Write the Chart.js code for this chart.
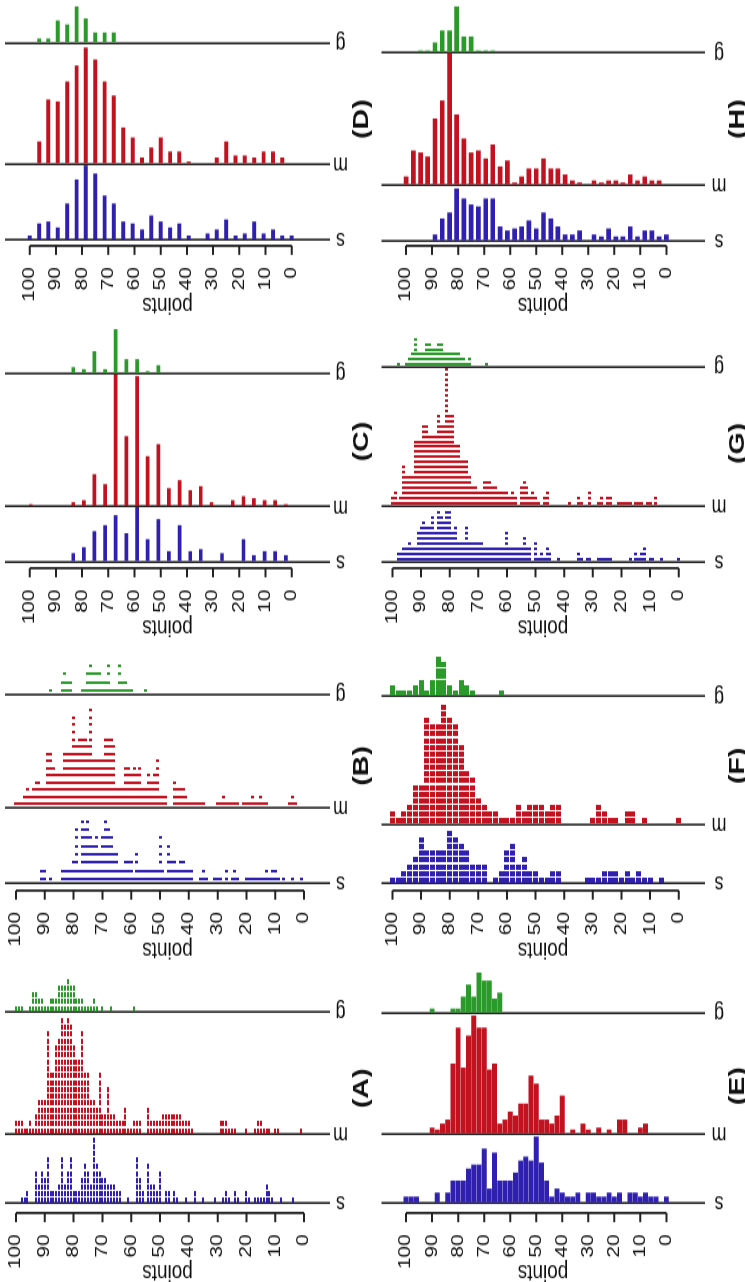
<!DOCTYPE html>
<html lang="en">
<head>
  <meta charset="UTF-8">
  <title>points by group</title>
  <script src="https://cdn.jsdelivr.net/npm/chart.js"></script>
  <style>
    html, body { margin: 0; padding: 0; background: #fff; overflow: hidden; }
    body { width: 745px; height: 1282px; position: relative; }
    /* the figure is laid out landscape, then turned a quarter left */
    #fig {
      position: absolute; left: 0; top: 0; width: 992px; height: 745px;
      transform-origin: 0 0;
      transform: translateY(1282px) rotate(-90deg) scaleX(1.3);
    }
    .panel { position: absolute; width: 248px; }
    .panel canvas { display: block; }
  </style>
</head>
<body>
<div id="fig"></div>

<script>
  const yTicks = [0, 10, 20, 30, 40, 50, 60, 70, 80, 90, 100];
  const groupNames = ["s", "m", "g"];
  const colors = ["#3020b0", "#c21220", "#2a9a2a"];

  // --- dot panels: [points, count] ---
  const aBlue = [[98,1],[97,1],[96,2],[93,5],[92,3],[91,5],[90,4],[89,7],[88,2],[87,2],[86,2],[85,3],[84,7],[83,3],[82,5],[81,7],[80,2],[79,2],[78,2],[77,4],[76,6],[75,5],[74,3],[73,10],[72,6],[71,5],[70,4],[69,4],[68,3],[67,3],[66,3],[65,2],[64,2],[61,1],[58,7],[57,4],[56,2],[54,6],[53,3],[52,3],[51,2],[50,5],[48,2],[47,2],[45,2],[44,1],[41,1],[38,2],[35,1],[31,1],[28,1],[27,2],[26,1],[24,2],[23,1],[20,2],[19,1],[17,1],[16,1],[15,1],[14,1],[13,3],[12,2],[11,1],[8,1],[4,1]];
  const aRed = [[100,2],[99,2],[98,2],[97,1],[96,1],[95,2],[94,1],[93,3],[92,5],[91,5],[90,5],[89,15],[88,9],[87,9],[86,13],[85,14],[84,17],[83,16],[82,17],[81,16],[80,13],[79,11],[78,11],[77,15],[76,9],[75,9],[74,5],[73,5],[72,4],[71,9],[70,3],[69,3],[68,7],[67,3],[66,3],[65,2],[64,2],[63,2],[62,4],[61,1],[60,1],[59,2],[58,2],[57,2],[54,4],[53,2],[52,2],[51,2],[50,2],[49,3],[48,3],[47,3],[46,3],[45,3],[44,3],[43,3],[42,2],[41,2],[40,2],[39,1],[29,2],[28,2],[27,2],[26,1],[25,1],[24,1],[20,1],[17,1],[16,2],[15,2],[14,1],[13,1],[12,1],[10,1],[9,1],[1,1]];
  const aGreen = [[100,1],[99,1],[98,1],[95,1],[94,3],[93,3],[92,2],[91,2],[90,1],[89,1],[88,2],[87,2],[86,2],[85,4],[84,4],[83,4],[82,5],[81,4],[80,4],[79,2],[78,2],[77,2],[76,1],[75,1],[74,1],[73,2],[72,1],[70,1],[67,1],[59,1]];

  const bBlue = [[91,2],[90,2],[88,1],[84,2],[83,2],[82,2],[81,2],[80,3],[79,7],[78,2],[77,8],[76,7],[75,8],[74,6],[73,5],[72,6],[71,4],[70,6],[69,8],[68,7],[67,6],[66,4],[65,4],[64,2],[63,2],[62,3],[61,3],[60,3],[59,1],[58,4],[57,2],[56,2],[55,2],[54,2],[53,2],[52,2],[51,2],[50,6],[49,2],[48,1],[47,5],[46,3],[45,3],[44,2],[43,3],[42,3],[41,2],[40,2],[39,2],[36,1],[35,2],[34,1],[31,1],[30,1],[29,1],[27,2],[25,1],[24,2],[23,1],[20,1],[19,1],[18,1],[17,1],[16,1],[15,1],[14,1],[13,2],[12,1],[11,2],[10,2],[9,1],[7,1],[4,1],[1,1]];
  const bRed = [[100,1],[99,1],[98,1],[97,2],[96,3],[95,2],[94,3],[93,4],[92,4],[91,3],[90,3],[89,8],[88,8],[87,6],[86,5],[85,5],[84,5],[83,8],[82,8],[81,8],[80,13],[79,9],[78,10],[77,10],[76,10],[75,9],[74,14],[73,7],[72,7],[71,7],[70,7],[69,10],[68,10],[67,10],[66,9],[65,3],[64,3],[63,3],[62,6],[61,6],[60,5],[59,6],[58,5],[57,6],[56,3],[55,3],[54,5],[53,4],[52,5],[51,7],[50,2],[49,2],[48,2],[45,4],[44,3],[43,3],[42,3],[41,2],[40,1],[39,1],[38,1],[37,1],[36,1],[35,1],[30,1],[29,1],[28,2],[27,1],[26,1],[25,1],[24,1],[23,1],[21,1],[20,1],[19,1],[18,2],[17,1],[16,1],[15,2],[14,1],[13,1],[5,1],[4,2],[3,1]];
  const bGreen = [[88,1],[84,2],[83,3],[82,2],[81,2],[77,1],[76,1],[75,3],[74,4],[73,3],[72,3],[71,3],[70,2],[69,2],[68,4],[67,1],[66,1],[65,1],[64,4],[63,2],[62,2],[61,1],[60,1],[55,1]];

  const fBlue = [[100,1],[98,1],[96,2],[94,3],[92,4],[90,7],[88,5],[86,5],[84,5],[82,5],[80,8],[78,7],[76,6],[74,5],[72,3],[70,3],[68,3],[64,1],[62,2],[60,5],[58,6],[56,3],[54,4],[52,2],[50,2],[48,1],[46,1],[44,2],[42,2],[32,1],[30,1],[28,1],[26,2],[24,2],[22,2],[20,1],[18,2],[16,1],[14,2],[12,1],[10,1],[6,1]];
  const fRed = [[100,2],[98,1],[96,2],[94,3],[92,6],[90,6],[88,16],[86,15],[84,15],[82,18],[80,16],[78,15],[76,12],[74,8],[72,7],[70,4],[68,3],[66,2],[64,2],[62,1],[60,1],[58,1],[56,3],[54,2],[52,3],[50,3],[48,3],[46,2],[44,3],[42,3],[30,1],[28,3],[26,2],[24,1],[22,1],[18,2],[16,2],[12,1],[0,1]];
  const fGreen = [[100,2],[98,1],[96,1],[94,1],[92,2],[90,3],[88,1],[86,3],[84,7],[82,6],[80,2],[78,1],[76,3],[74,2],[72,1],[62,1]];

  const gBlue = [[98,2],[97,2],[96,3],[95,3],[94,4],[93,3],[92,3],[91,6],[90,7],[89,8],[88,7],[87,7],[86,9],[85,6],[84,10],[83,9],[82,8],[81,10],[80,10],[79,6],[78,7],[77,4],[76,4],[75,4],[74,7],[73,4],[72,4],[71,4],[70,4],[69,4],[68,3],[67,3],[66,3],[65,3],[64,3],[63,3],[62,3],[61,3],[60,6],[59,3],[58,3],[57,3],[56,3],[55,3],[54,5],[53,3],[52,3],[50,4],[49,1],[48,2],[47,1],[46,3],[45,2],[42,1],[35,2],[34,1],[32,1],[31,1],[28,1],[27,1],[26,1],[25,1],[24,1],[17,1],[15,2],[14,1],[13,2],[12,3],[10,1],[9,1],[6,1],[0,1]];
  const gRed = [[100,2],[99,3],[98,1],[97,2],[96,8],[95,6],[94,6],[93,6],[92,13],[91,13],[90,13],[89,16],[88,16],[87,14],[86,14],[85,14],[84,18],[83,16],[82,16],[81,27],[80,18],[79,18],[78,12],[77,12],[76,9],[75,9],[74,9],[73,6],[72,4],[71,4],[70,3],[69,3],[68,5],[67,5],[66,5],[65,4],[64,4],[63,3],[62,3],[61,3],[60,3],[59,2],[58,3],[57,2],[55,4],[54,5],[53,4],[52,2],[51,3],[50,2],[49,1],[47,2],[46,3],[38,1],[35,2],[34,1],[31,3],[28,1],[27,2],[25,2],[24,2],[21,1],[20,1],[19,1],[18,1],[17,1],[15,1],[14,1],[13,1],[11,1],[10,1],[8,2]];
  const gGreen = [[98,1],[95,1],[94,2],[93,3],[92,6],[91,3],[90,3],[89,3],[88,5],[87,5],[86,4],[85,4],[84,5],[83,5],[82,3],[81,3],[80,3],[79,3],[78,3],[77,3],[76,2],[75,2],[74,1],[73,2],[67,1]];

  // --- bar panels ---
  const cPos = [99.6, 95.5, 91.5, 87.4, 83.4, 79.3, 75.3, 71.2, 67.2, 63.1, 59.0, 55.0, 50.9, 46.9, 42.8, 38.7, 34.7, 30.6, 26.6, 22.5, 18.4, 14.4, 10.3, 6.3, 2.2];
  const cBlue = [0, 0, 0, 0, 4, 7, 15, 18, 23, 14, 27, 11, 21, 5, 18, 5, 6, 0, 4, 0, 11, 3, 5, 5, 3];
  const cRed = [1, 0, 0, 0, 2, 3, 16, 11, 66, 35, 65, 25, 31, 9, 13, 8, 10, 2, 0, 3, 5, 4, 3, 3, 1];
  const cGreen = [0, 0, 0, 0, 3, 2, 11, 2, 22, 7, 7, 1, 4, 0, 0, 0, 0, 0, 0, 0, 0, 0, 0, 0, 0];

  const dPos = [100, 96.4, 92.9, 89.3, 85.7, 82.1, 78.6, 75, 71.4, 67.9, 64.3, 60.7, 57.1, 53.6, 50, 46.4, 42.9, 39.3, 35.7, 32.1, 28.6, 25, 21.4, 17.9, 14.3, 10.7, 7.1, 3.6, 0];
  const dBlue = [2, 8, 9, 6, 18, 30, 37, 33, 22, 18, 9, 8, 5, 12, 9, 6, 8, 2, 0, 3, 5, 10, 2, 3, 9, 3, 5, 2, 2];
  const dRed = [0, 11, 32, 31, 41, 49, 58, 52, 41, 34, 18, 13, 3, 8, 13, 6, 6, 1, 0, 0, 3, 11, 4, 4, 3, 6, 6, 3, 0];
  const dGreen = [0, 2, 2, 11, 9, 18, 12, 5, 5, 5, 0, 0, 0, 0, 0, 0, 0, 0, 0, 0, 0, 0, 0, 0, 0, 0, 0, 0, 0];

  const eBlue = [[100,3],[98,3],[96,3],[88,5],[84,5],[82,11],[80,11],[78,11],[76,17],[74,19],[72,19],[70,27],[68,7],[66,25],[64,11],[62,11],[60,11],[58,15],[56,21],[54,23],[52,21],[50,33],[48,20],[46,11],[44,3],[42,7],[40,5],[38,3],[36,3],[34,5],[30,5],[28,5],[26,3],[24,3],[22,5],[20,3],[18,5],[14,5],[12,5],[10,3],[8,5],[6,3],[4,3],[0,3]];
  const eRed = [[90,3],[88,2],[86,5],[84,7],[82,35],[80,53],[78,33],[76,49],[74,59],[72,53],[70,53],[68,32],[66,35],[64,5],[62,7],[60,11],[58,9],[56,15],[54,15],[52,29],[50,25],[48,7],[46,7],[44,5],[42,9],[40,19],[36,2],[32,5],[30,2],[26,3],[22,2],[18,7],[16,7],[10,3],[8,5]];
  const eGreen = [[90,2],[82,2],[80,2],[78,8],[76,14],[74,8],[72,20],[70,16],[68,16],[66,7],[64,10]];

  const hPos = [100, 97.2, 94.4, 91.7, 88.9, 86.1, 83.3, 80.6, 77.8, 75, 72.2, 69.4, 66.7, 63.9, 61.1, 58.3, 55.6, 52.8, 50, 47.2, 44.4, 41.7, 38.9, 36.1, 33.3, 30.6, 27.8, 25, 22.2, 19.4, 16.7, 13.9, 11.1, 8.3, 5.6, 2.8, 0];
  const hBlue = [0, 0, 0, 0, 3, 11, 14, 26, 21, 18, 17, 21, 21, 7, 5, 6, 7, 10, 6, 14, 11, 7, 3, 3, 5, 0, 3, 2, 6, 2, 2, 7, 2, 5, 5, 2, 3];
  const hRed = [4, 17, 16, 14, 33, 42, 66, 35, 23, 16, 17, 13, 20, 9, 12, 1, 4, 8, 8, 13, 8, 8, 5, 2, 1, 0, 2, 1, 2, 2, 1, 5, 2, 4, 2, 2, 0];
  const hGreen = [0, 0, 1, 1, 5, 11, 11, 23, 8, 8, 1, 1, 1, 0, 0, 0, 0, 0, 0, 0, 0, 0, 0, 0, 0, 0, 0, 0, 0, 0, 0, 0, 0, 0, 0, 0, 0];

  const zip = (pos, counts) => pos.map((p, i) => [p, counts[i]]).filter(d => d[1] > 0);

  // layout measured on the picture (px along the panel, before the stretch)
  const AXIS = 69, PANEL = 322.4, STRETCH = 1.3, TICK = 7;
  const rows = [
    { top: 0,   h: 372, areaTop: 5,   areaBottom: 330,   labelY: 340.5, letterY: 362 },
    { top: 372, h: 373, areaTop: 9.5, areaBottom: 332.5, labelY: 347,   letterY: 366 }
  ];
  const panels = [
    { id: "A", row: 0, idx: 0, kind: "dot", data: [aBlue, aRed, aGreen], bases: [79, 149, 273],       units: [6.7, 7, 7],     mark: [4, 2] },
    { id: "B", row: 0, idx: 1, kind: "dot", data: [bBlue, bRed, bGreen], bases: [76.3, 153.3, 268.3], units: [8.4, 7.3, 8.3], mark: [2, 3] },
    { id: "C", row: 0, idx: 2, kind: "bar", data: [zip(cPos, cBlue), zip(cPos, cRed), zip(cPos, cGreen)], bases: [75.6, 130.6, 263.6], units: [2, 2, 2], thick: 3 },
    { id: "D", row: 0, idx: 3, kind: "bar", data: [zip(dPos, dBlue), zip(dPos, dRed), zip(dPos, dGreen)], bases: [74.9, 150.9, 271.9], units: [2, 2, 2], thick: 3.3 },
    { id: "E", row: 1, idx: 0, kind: "bar", data: [eBlue, eRed, eGreen], bases: [79, 148, 269],       units: [2, 2, 2],       thick: 4.3 },
    { id: "F", row: 1, idx: 1, kind: "dot", data: [fBlue, fRed, fGreen], bases: [76.3, 136.3, 266.3], units: [6.8, 6.8, 5.8], mark: [4, 5] },
    { id: "G", row: 1, idx: 2, kind: "dot", data: [gBlue, gRed, gGreen], bases: [75.6, 132.6, 273.6], units: [5.3, 5.2, 5],   mark: [2, 3] },
    { id: "H", row: 1, idx: 3, kind: "bar", data: [zip(hPos, hBlue), zip(hPos, hRed), zip(hPos, hGreen)], bases: [73.9, 129.9, 261.9], units: [2, 2, 2], thick: 4 }
  ];

  Chart.defaults.font.family = '"Liberation Sans", Arial, sans-serif';
  Chart.defaults.color = "#111";

  function marker(color, w, h) {
    const c = document.createElement("canvas");
    c.width = w; c.height = h;
    const g = c.getContext("2d");
    g.fillStyle = color;
    g.fillRect(0, 0, w, h);
    return c;
  }

  // one count axis per group, side by side; only its zero line is drawn
  function countScale(min, max, weight) {
    return {
      type: "linear", position: "bottom", stack: "cols", stackWeight: weight,
      min: min, max: max, offset: false,
      ticks: { display: false },
      border: { display: false },
      grid: { drawTicks: false, color: "#222", lineWidth: 1.6 },
      afterBuildTicks: s => { s.ticks = [{ value: 0 }]; },
      afterFit: s => { s.height = 0; }
    };
  }

  const fig = document.getElementById("fig");

  panels.forEach(p => {
    const row = rows[p.row];
    const box = document.createElement("div");
    box.className = "panel";
    box.style.left = (p.idx * PANEL / STRETCH) + "px";
    box.style.top = row.top + "px";
    box.style.height = row.h + "px";
    const canvas = document.createElement("canvas");
    canvas.width = 248;
    canvas.height = row.h;
    box.appendChild(canvas);
    fig.appendChild(box);

    const [sB, mB, gB] = p.bases;
    const [uS, uM, uG] = p.units;
    const ids = ["xs", "xm", "xg"];

    const datasets = p.data.map((series, i) => {
      if (p.kind === "dot") {
        const pts = [];
        series.forEach(([v, c]) => {
          for (let k = 0; k < c; k++) pts.push({ x: k + 0.5, y: v });
        });
        return {
          data: pts, xAxisID: ids[i], yAxisID: "y",
          pointStyle: marker(colors[i], p.mark[0], p.mark[1]),
          pointRadius: 2, pointHoverRadius: 2
        };
      }
      return {
        data: series.map(([v, c]) => ({ x: c, y: v })),
        xAxisID: ids[i], yAxisID: "y",
        backgroundColor: colors[i], borderWidth: 0,
        barThickness: p.thick, grouped: false
      };
    });

    const decor = {
      id: "decor",
      afterDraw(chart) {
        const { ctx, chartArea, scales } = chart;
        const y = scales.y;
        const left = chartArea.left;
        ctx.save();
        // points axis: line from 0 to 100 with outward ticks
        ctx.strokeStyle = "#222";
        ctx.lineWidth = 1.8;
        ctx.beginPath();
        ctx.moveTo(left, y.getPixelForValue(0));
        ctx.lineTo(left, y.getPixelForValue(100));
        ctx.stroke();
        ctx.lineWidth = 2;
        ctx.beginPath();
        yTicks.forEach(v => {
          const py = y.getPixelForValue(v);
          ctx.moveTo(left, py);
          ctx.lineTo(left - TICK, py);
        });
        ctx.stroke();

        ctx.fillStyle = "#111";
        ctx.textAlign = "center";
        ctx.textBaseline = "middle";
        ctx.font = '18px "Liberation Sans", Arial, sans-serif';
        ids.forEach((id, i) => {
          ctx.save();
          ctx.translate(scales[id].getPixelForValue(0), row.labelY);
          ctx.rotate(-Math.PI / 2);
          ctx.fillText(groupNames[i], 0, 0);
          ctx.restore();
        });

        ctx.font = 'bold 22px "Liberation Sans", Arial, sans-serif';
        ctx.fillText("(" + p.id + ")", (chartArea.left + chartArea.right) / 2, row.letterY);
        ctx.restore();
      }
    };

    new Chart(canvas, {
      type: p.kind === "dot" ? "scatter" : "bar",
      data: { datasets },
      plugins: [decor],
      options: {
        indexAxis: p.kind === "dot" ? "x" : "y",
        responsive: false,
        animation: false,
        events: [],
        layout: { padding: { top: row.areaTop, bottom: row.h - row.areaBottom, left: 0, right: 0 } },
        plugins: { legend: { display: false }, tooltip: { enabled: false } },
        scales: {
          xs: countScale(-(sB - AXIS) / uS, (mB - sB) / uS, mB - AXIS),
          xm: countScale(0, (gB - mB) / uM, gB - mB),
          xg: countScale(0, (PANEL - gB) / uG, PANEL - gB),
          y: {
            type: "linear", position: "left", min: -9, max: 103.8,
            afterBuildTicks: s => { s.ticks = yTicks.map(v => ({ value: v })); },
            afterFit: s => { s.width = AXIS / STRETCH; s.paddingTop = 0; s.paddingBottom = 0; },
            ticks: { font: { size: 16 }, color: "#111", padding: 1.5 + TICK },
            grid: { display: false },
            border: { display: false },
            title: { display: true, text: "points", font: { size: 19, lineHeight: 0.8 }, padding: 0, color: "#111" }
          }
        }
      }
    });
  });
</script>
</body>
</html>
